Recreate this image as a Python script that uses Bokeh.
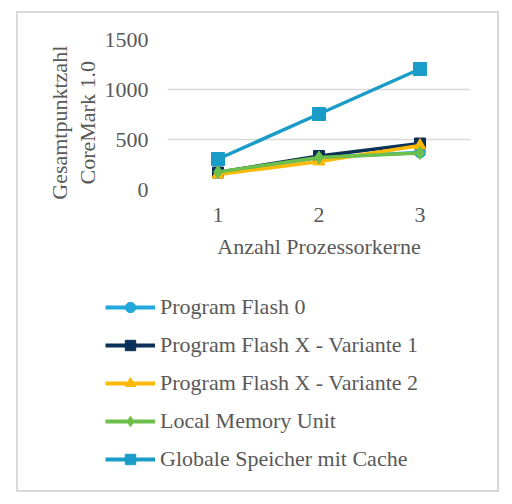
from bokeh.plotting import figure
from bokeh.layouts import column
from bokeh.models import Legend, LegendItem, FixedTicker
from bokeh.embed import file_html
from bokeh.resources import INLINE

cores = [1, 2, 3]
program_flash_0 = [170, 320, 370]
flash_x_v1 = [170, 335, 460]
flash_x_v2 = [150, 280, 440]
local_memory = [175, 320, 365]
global_cache = [305, 755, 1205]

series = [
    ("Program Flash 0", program_flash_0, "#21a8dc", "circle", 11),
    ("Program Flash X - Variante 1", flash_x_v1, "#0c3158", "square", 11),
    ("Program Flash X - Variante 2", flash_x_v2, "#ffb900", "triangle", 12),
    ("Local Memory Unit", local_memory, "#6cbf4a", "diamond", 13),
    ("Globale Speicher mit Cache", global_cache, "#1a9cc8", "square", 13),
]

FONT = "Liberation Serif"
GREY = "#595959"

# chart
p = figure(frame_width=303, frame_height=150, x_range=(0.5, 3.5), y_range=(0, 1500),
           min_border_left=149, min_border_top=26, min_border_right=27, min_border_bottom=91,
           output_backend="svg", toolbar_location=None)
p.outline_line_color = None

# legend-only figure below the chart (its renderers lie outside its ranges)
leg = figure(frame_width=479, frame_height=210, x_range=(100, 101), y_range=(0, 1),
             min_border=0, x_axis_type=None, y_axis_type=None,
             output_backend="svg", toolbar_location=None)
leg.outline_line_color = None
leg.xgrid.visible = False
leg.ygrid.visible = False

items = []
for name, vals, color, marker, size in series:
    p.line(cores, vals, line_color=color, line_width=3.5)
    p.scatter(cores, vals, marker=marker, size=size, fill_color=color, line_color=color)
    ln = leg.line(cores, vals, line_color=color, line_width=4)
    sc = leg.scatter(cores, vals, marker=marker, size=size, fill_color=color, line_color=color)
    items.append(LegendItem(label=name, renderers=[ln, sc]))

legend = Legend(items=items, location=(87, 18), orientation="vertical")
legend.border_line_color = None
legend.background_fill_alpha = 0
legend.padding = 0
legend.margin = 0
legend.glyph_width = 50
legend.glyph_height = 26
legend.label_height = 26
legend.spacing = 12
legend.label_standoff = 5
legend.label_text_font = FONT
legend.label_text_font_size = "22px"
legend.label_text_color = GREY
leg.add_layout(legend, "center")

p.xaxis.ticker = FixedTicker(ticks=cores)
p.yaxis.ticker = FixedTicker(ticks=[0, 500, 1000, 1500])
p.xaxis.axis_label = "Anzahl Prozessorkerne"
p.yaxis.axis_label = "Gesamtpunktzahl\u00a0\u00a0\u00a0\nCoreMark 1.0\u00a0\u00a0\u00a0"
for ax in (p.xaxis[0], p.yaxis[0]):
    ax.axis_line_color = None
    ax.major_tick_line_color = None
    ax.minor_tick_line_color = None
    ax.major_label_text_font = FONT
    ax.major_label_text_font_size = "22px"
    ax.major_label_text_color = GREY
    ax.axis_label_text_font = FONT
    ax.axis_label_text_font_size = "22px"
    ax.axis_label_text_font_style = "normal"
    ax.axis_label_text_color = GREY
p.yaxis.axis_label_text_line_height = 1.1
p.xaxis.major_label_standoff = 12
p.yaxis.major_label_standoff = 13
p.xaxis.axis_label_standoff = 9
p.yaxis.axis_label_standoff = 2

p.xgrid.grid_line_color = None
p.ygrid.grid_line_color = "#d9d9d9"
p.ygrid.grid_line_width = 1.5

page = column(p, leg, spacing=0)
page.margin = (11, 0, 0, 16)
page.styles = {"border": "2px solid #d9d9d9"}

open("out.html", "w").write(file_html(page, INLINE))
